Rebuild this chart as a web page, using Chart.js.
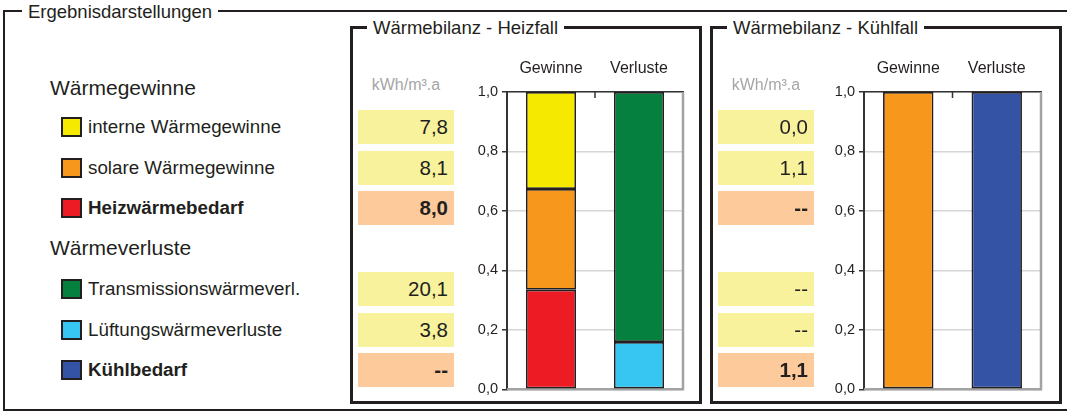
<!DOCTYPE html>
<html lang="de">
<head>
<meta charset="utf-8">
<title>Ergebnisdarstellungen</title>
<script src="https://cdn.jsdelivr.net/npm/chart.js@4/dist/chart.umd.min.js"></script>
<style>
  html, body { margin: 0; padding: 0; background: #fff; }
  body {
    width: 1067px; height: 412px; position: relative; overflow: hidden;
    font-family: "Liberation Sans", Arial, sans-serif; color: #231f20;
  }
  .frame { position: absolute; box-sizing: border-box; border: 3px solid #231f20; }
  .outer { left: 3px; top: 10px; width: 1090px; height: 401px; border-right: none; border-width: 2.5px; }
  .panel { top: 26px; width: 352px; height: 378px; }
  .caption {
    position: absolute; background: #fff; padding: 0 6px; white-space: nowrap;
    line-height: 22px; height: 22px; font-size: 18.5px;
  }
  .abs { position: absolute; white-space: nowrap; }
  .group { font-size: 21px; line-height: 26px; height: 26px; }
  .item { font-size: 18.8px; line-height: 24px; height: 24px; }
  .swatch { position: absolute; width: 21px; height: 20px; box-sizing: border-box; border: 2px solid #231f20; }
  .unit { font-size: 16px; color: #a6a6a6; line-height: 20px; text-align: center; }
  .cell {
    position: absolute; box-sizing: border-box; padding-right: 6px; text-align: right;
    font-size: 20.5px; line-height: 34px; height: 34px;
  }
  canvas { position: absolute; }
</style>
</head>
<body>
<div class="frame outer"></div>
<div class="caption" style="left:22px;top:1px;">Ergebnisdarstellungen</div>

<div class="frame panel" style="left:350px;"></div>
<div class="caption" style="left:367px;top:17px;">Wärmebilanz - Heizfall</div>

<div class="frame panel" style="left:710px;"></div>
<div class="caption" style="left:727px;top:17px;">Wärmebilanz - Kühlfall</div>

<canvas id="heiz" width="245" height="352" style="left:455px;top:50px;"></canvas>
<canvas id="kuehl" width="246" height="352" style="left:812px;top:50px;"></canvas>

<script>
// Energy balance rows (kWh/m³.a); null means "no value" and is shown as "--"
const rowLabels = ['interne Wärmegewinne', 'solare Wärmegewinne', 'Heizwärmebedarf',
                   'Transmissionswärmeverl.', 'Lüftungswärmeverluste', 'Kühlbedarf'];
const rowColors = ['#f5e900', '#f7981d', '#ed1c24', '#06803f', '#37c6f1', '#3553a5'];
const heizWerte  = [7.8, 8.1, 8.0, 20.1, 3.8, null];
const kuehlWerte = [0.0, 1.1, null, null, null, 1.1];

const groupTitles = ['Wärmegewinne', 'Wärmeverluste'];
const gainRows = [0, 1, 2];
const lossRows = [3, 4, 5];
const demandRows = [2, 5];          // printed in bold, orange cells
const stackOrder = [2, 1, 0, 5, 4, 3]; // bottom to top within each bar

const categories = ['Gewinne', 'Verluste'];
const yTickLabels = ['0,0', '0,2', '0,4', '0,6', '0,8', '1,0'];
const unitLabel = 'kWh/m³.a';

// ---- layout helpers ----
const rowTops = [110, 151, 191, 272, 313, 353];
const rowH = 34;
const groupCenters = [88, 248];

function add(html) { document.body.insertAdjacentHTML('beforeend', html); }
function fmt(v) { return v === null ? '--' : v.toFixed(1).replace('.', ','); }

// legend column
groupTitles.forEach((t, g) => {
  add(`<div class="abs group" style="left:50px;top:${groupCenters[g] - 13}px;">${t}</div>`);
});
rowLabels.forEach((label, i) => {
  const cy = rowTops[i] + rowH / 2;
  const bold = demandRows.includes(i) ? 'font-weight:bold;' : '';
  add(`<div class="swatch" style="left:61px;top:${cy - 10}px;background:${rowColors[i]};"></div>`);
  add(`<div class="abs item" style="left:88px;top:${cy - 12}px;${bold}">${label}</div>`);
});

// value columns
function valueColumn(values, left, width) {
  add(`<div class="abs unit" style="left:${left}px;width:${width}px;top:75px;">${unitLabel}</div>`);
  values.forEach((v, i) => {
    const demand = demandRows.includes(i);
    const bg = demand ? '#fdcb9b' : '#f8f29c';
    const bold = demand ? 'font-weight:bold;' : '';
    add(`<div class="cell" style="left:${left}px;top:${rowTops[i]}px;width:${width}px;background:${bg};${bold}">${fmt(v)}</div>`);
  });
}
valueColumn(heizWerte, 358, 96);
valueColumn(kuehlWerte, 718, 96);

// ---- charts ----
function sum(values, rows) { return rows.reduce((s, r) => s + (values[r] || 0), 0); }

function datasetsFor(values) {
  const gainSum = sum(values, gainRows);
  const lossSum = sum(values, lossRows);
  return stackOrder.map(r => {
    const isGain = gainRows.includes(r);
    const total = isGain ? gainSum : lossSum;
    const share = values[r] === null || total === 0 ? null : values[r] / total;
    return {
      label: rowLabels[r],
      data: isGain ? [share, null] : [null, share],
      backgroundColor: rowColors[r],
      borderColor: '#231f20',
      borderWidth: 1.75,
      borderSkipped: false,
      barPercentage: 0.57,
      categoryPercentage: 1
    };
  });
}

const plotFrame = {
  id: 'plotFrame',
  beforeDatasetsDraw(chart) {
    const { ctx, chartArea: a, scales: { x } } = chart;
    ctx.save();
    ctx.strokeStyle = '#a3a3a3';
    ctx.lineWidth = 2.5;
    ctx.beginPath();
    ctx.moveTo(a.left, a.bottom);
    ctx.lineTo(a.right, a.bottom);
    ctx.lineTo(a.right, a.top);
    ctx.stroke();
    const mid = (x.getPixelForValue(0) + x.getPixelForValue(1)) / 2;
    ctx.strokeStyle = '#333';
    ctx.lineWidth = 1.5;
    ctx.beginPath();
    ctx.moveTo(mid, a.top);
    ctx.lineTo(mid, a.top + 6);
    ctx.stroke();
    ctx.restore();
  }
};

const tickFont = { family: '"Liberation Sans", Arial, sans-serif', size: 14.5 };

function balanceChart(id, values) {
  return new Chart(document.getElementById(id), {
    type: 'bar',
    data: { labels: categories, datasets: datasetsFor(values) },
    plugins: [plotFrame],
    options: {
      responsive: false,
      animation: false,
      layout: { padding: { left: 0, right: 17, top: 0, bottom: 0 }, autoPadding: false },
      plugins: { legend: { display: false }, tooltip: { enabled: false } },
      scales: {
        x: {
          position: 'top',
          stacked: true,
          grid: { display: false, drawTicks: false },
          border: { display: true, color: '#333', width: 1.5 },
          ticks: { color: '#231f20', font: { family: tickFont.family, size: 16 }, padding: 14 },
          afterFit(s) { s.height = 42; }
        },
        y: {
          stacked: true,
          min: 0, max: 1,
          ticks: {
            stepSize: 0.2,
            color: '#231f20',
            font: tickFont,
            padding: 4,
            callback: (v, i) => yTickLabels[i]
          },
          grid: { color: '#d6d6d6', lineWidth: 1.5, tickColor: '#333', tickLength: 5 },
          border: { display: true, color: '#333', width: 2 },
          afterFit(s) { s.width = 52; }
        }
      }
    }
  });
}

balanceChart('heiz', heizWerte);
balanceChart('kuehl', kuehlWerte);
</script>
</body>
</html>
